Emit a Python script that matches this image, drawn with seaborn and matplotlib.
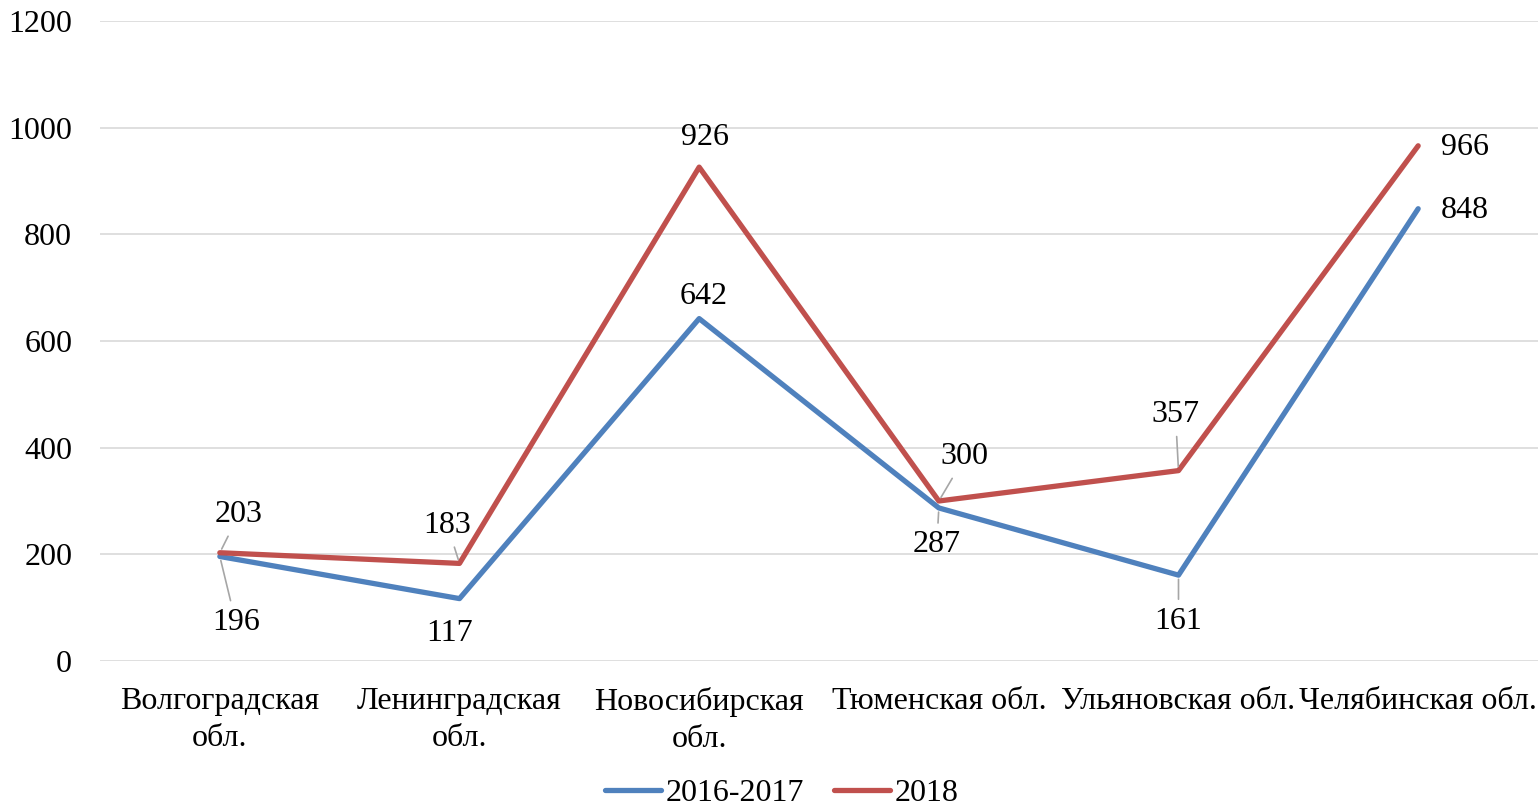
import matplotlib
matplotlib.use("Agg")
import matplotlib.pyplot as plt
import seaborn as sns
import pandas as pd
from matplotlib.lines import Line2D

categories = ["Волгоградская\nобл.", "Ленинградская\nобл.", "Новосибирская\nобл.",
              "Тюменская обл.", "Ульяновская обл.", "Челябинская обл."]
series_2016 = [196, 117, 642, 287, 161, 848]
series_2018 = [203, 183, 926, 300, 357, 966]
series_names = ["2016-2017", "2018"]
y_ticks = [0, 200, 400, 600, 800, 1000, 1200]

# label offsets in pixels (dx, dy) and whether a leader line is drawn
off_2016 = [(16, -66, True), (-10, -35, False), (4, 22, False), (-2, -37, True), (0, -46, True), (47, -2, False)]
off_2018 = [(19, 38, True), (-12, 38, True), (6, 30, False), (26, 44, True), (-3, 56, True), (47, -2, False)]

sns.set_theme(style="white")
plt.rcParams["font.family"] = ["Liberation Serif", "DejaVu Serif"]
plt.rcParams["text.color"] = "black"

FS = 23

df = pd.DataFrame({
    "cat": list(range(len(categories))) * 2,
    "value": series_2016 + series_2018,
    "series": [series_names[0]] * len(categories) + [series_names[1]] * len(categories),
})

fig = plt.figure(figsize=(15.39, 8.09), dpi=100)
ax = fig.add_axes([100 / 1539, 1 - 661 / 809, 1438 / 1539, 640 / 809])

palette = {series_names[0]: "#4F81BD", series_names[1]: "#C0504D"}
sns.lineplot(data=df, x="cat", y="value", hue="series", palette=palette, ax=ax,
             linewidth=3.8, legend=False, sort=False)

ax.set_xlim(-0.5, len(categories) - 0.5)
ax.set_ylim(0, 1200)
ax.set_yticks(y_ticks)
ax.set_yticklabels([str(t) for t in y_ticks], fontsize=FS, color="black")
ax.set_xticks(range(len(categories)))
ax.set_xticklabels(categories, fontsize=FS, linespacing=1.35, color="black")
ax.tick_params(axis="y", length=0, pad=20)
ax.tick_params(axis="x", length=0, pad=19)
ax.set_xlabel("")
ax.set_ylabel("")
ax.grid(axis="y", color="#d9d9d9", linewidth=1.2)
ax.grid(axis="x", visible=False)
for s in ax.spines.values():
    s.set_visible(False)
ax.set_axisbelow(True)

for vals, offs in ((series_2016, off_2016), (series_2018, off_2018)):
    for i, (v, (dx, dy, lead)) in enumerate(zip(vals, offs)):
        kw = {}
        if lead:
            kw["arrowprops"] = dict(arrowstyle="-", color="#a6a6a6", lw=1.2, shrinkA=3, shrinkB=3)
        ax.annotate(str(v), xy=(i, v), xytext=(dx, dy), textcoords="offset pixels",
                    ha="center", va="center", fontsize=FS, color="black", **kw)

handles = [Line2D([], [], color=palette[n], lw=3.8, solid_capstyle="round") for n in series_names]
fig.legend(handles, series_names, loc="lower center", bbox_to_anchor=(0.508, -0.034), ncol=2,
           frameon=False, fontsize=FS, handlelength=1.75, handletextpad=0.15, columnspacing=0.95)

fig.savefig("out.png", dpi=100)
